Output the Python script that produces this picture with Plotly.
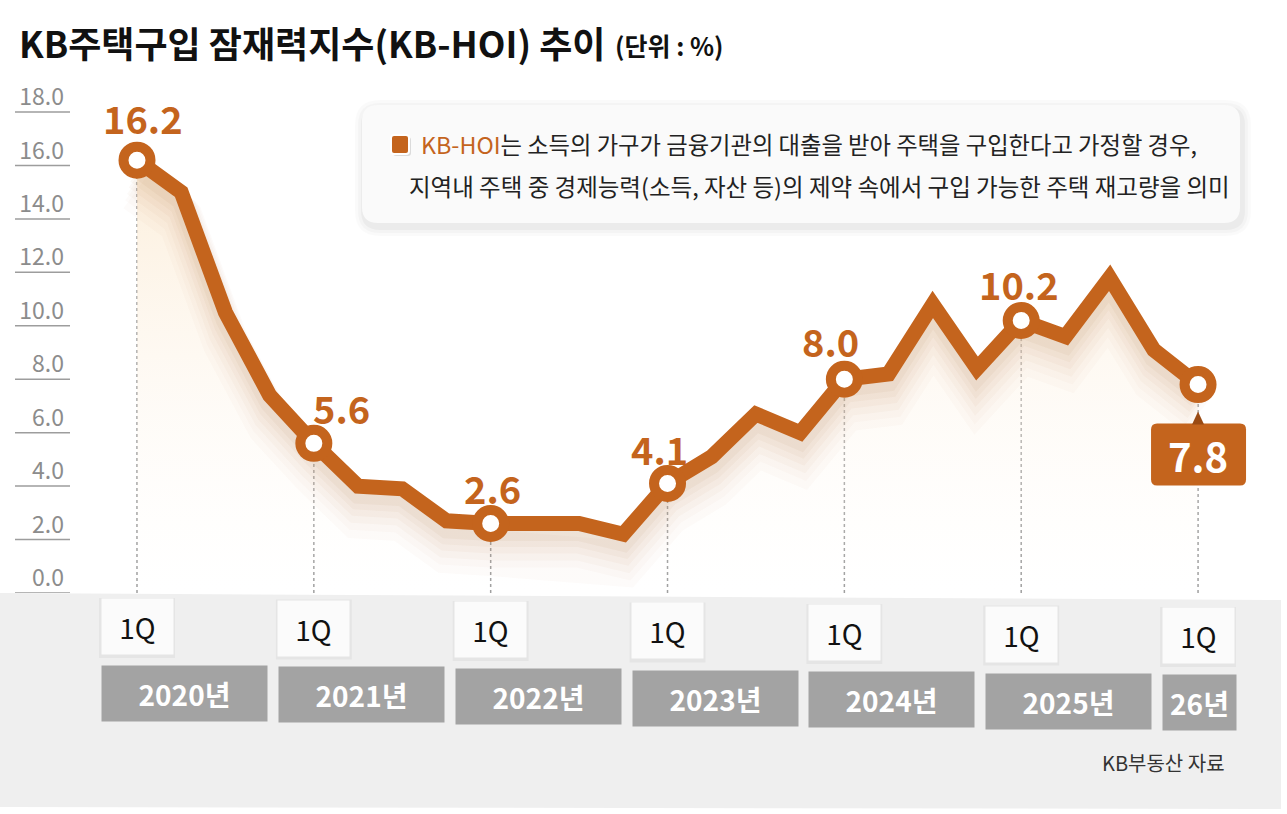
import plotly.graph_objects as go

# KB-HOI, quarterly, 2020 1Q ~ 2026 1Q
quarters = ["2020Q1", "2020Q2", "2020Q3", "2020Q4",
            "2021Q1", "2021Q2", "2021Q3", "2021Q4",
            "2022Q1", "2022Q2", "2022Q3", "2022Q4",
            "2023Q1", "2023Q2", "2023Q3", "2023Q4",
            "2024Q1", "2024Q2", "2024Q3", "2024Q4",
            "2025Q1", "2025Q2", "2025Q3", "2025Q4",
            "2026Q1"]
hoi = [16.2, 15.0, 10.5, 7.4,
       5.6, 4.0, 3.9, 2.7,
       2.6, 2.6, 2.6, 2.2,
       4.1, 5.1, 6.7, 6.0,
       8.0, 8.2, 10.8, 8.4,
       10.2, 9.6, 11.8, 9.1,
       7.8]
first_q = ["2020Q1", "2021Q1", "2022Q1", "2023Q1", "2024Q1", "2025Q1", "2026Q1"]
year_labels = ["2020년", "2021년", "2022년", "2023년", "2024년", "2025년", "26년"]
quarter_tag = "1Q"
ytick_vals = [0, 2, 4, 6, 8, 10, 12, 14, 16, 18]
ytick_text = ["0.0", "2.0", "4.0", "6.0", "8.0", "10.0", "12.0", "14.0", "16.0", "18.0"]

title_text = "KB주택구입 잠재력지수(KB-HOI) 추이"
unit_text = "(단위 : %)"
note_line1 = "는 소득의 가구가 금융기관의 대출을 받아 주택을 구입한다고 가정할 경우,"
note_line2 = "지역내 주택 중 경제능력(소득, 자산 등)의 제약 속에서 구입 가능한 주택 재고량을 의미"
source_text = "KB부동산 자료"

ORANGE = "#C4641D"
KR = "Noto Sans CJK KR"

# page geometry (px)
W_FIG, H_FIG = 1287, 814
L, R, T = 70, 7, 80
BOTTOM = 593
PW = W_FIG - L - R
PH = BOTTOM - T


def px_x(px):
    return (px - L) / PW


def px_y(py):
    return (BOTTOM - py) / PH


def rounded_rect(x0, y0, x1, y1, r):
    # pixel box -> paper path with rounded corners
    pts = [
        ("M", [(x0 + r, y0)]),
        ("L", [(x1 - r, y0)]),
        ("Q", [(x1, y0), (x1, y0 + r)]),
        ("L", [(x1, y1 - r)]),
        ("Q", [(x1, y1), (x1 - r, y1)]),
        ("L", [(x0 + r, y1)]),
        ("Q", [(x0, y1), (x0, y1 - r)]),
        ("L", [(x0, y0 + r)]),
        ("Q", [(x0, y0), (x0 + r, y0)]),
    ]
    out = ""
    for cmd, ps in pts:
        out += cmd + " " + " ".join(f"{px_x(a):.5f},{px_y(b):.5f}" for a, b in ps) + " "
    return out + "Z"


fig = go.Figure()

# soft cream area under the line
fig.add_trace(go.Scatter(
    x=quarters, y=hoi, mode="none", fill="tozeroy",
    fillgradient=dict(type="vertical",
                      colorscale=[[0, "rgba(255,250,244,0)"], [1, "rgba(251,234,210,0.8)"]]),
    hoverinfo="skip", showlegend=False))

# blurred shadow under the line
for off, wid, alpha in [(1.1, 46, 0.025), (0.9, 40, 0.025), (0.75, 34, 0.03),
                        (0.6, 28, 0.035), (0.45, 23, 0.04), (0.3, 19, 0.05)]:
    fig.add_trace(go.Scatter(
        x=quarters, y=[v - off for v in hoi], mode="lines",
        line=dict(color=f"rgba(160,95,35,{alpha})", width=wid),
        hoverinfo="skip", showlegend=False))

fig.add_trace(go.Scatter(
    x=quarters, y=hoi, mode="lines",
    line=dict(color=ORANGE, width=15),
    hoverinfo="skip", showlegend=False))

q_idx = [quarters.index(q) for q in first_q]
fig.add_trace(go.Scatter(
    x=first_q, y=[hoi[i] for i in q_idx], mode="markers",
    marker=dict(size=27, color="white", line=dict(color=ORANGE, width=10)),
    hoverinfo="skip", showlegend=False))

shapes = []

# grey band under the chart
shapes.append(dict(type="path", xref="paper", yref="paper", layer="below",
                   path=f"M {px_x(0)},{px_y(593)} L {px_x(1281)},{px_y(600)} "
                        f"L {px_x(1281)},{px_y(809)} L {px_x(0)},{px_y(807)} Z",
                   fillcolor="#efefef", line=dict(width=0)))

# short tick stubs on the left
for v in ytick_vals:
    shapes.append(dict(type="line", xref="paper", yref="y",
                       x0=px_x(15), x1=px_x(70), y0=v, y1=v,
                       line=dict(color="#9d9d9d", width=1.5)))

# dotted drop lines from 1Q points
for q in first_q:
    shapes.append(dict(type="line", xref="x", yref="y", layer="below",
                       x0=q, x1=q, y0=0, y1=hoi[quarters.index(q)],
                       line=dict(color="#a0a0a0", width=1.5, dash="dot")))

# note box with shadow
for grow, alpha in [(9, 0.018), (6, 0.025), (3, 0.035)]:
    shapes.append(dict(type="path", xref="paper", yref="paper",
                       path=rounded_rect(362 - grow + 2, 105 - grow + 4, 1240 + grow + 2, 223 + grow + 4, 16 + grow),
                       fillcolor=f"rgba(0,0,0,{alpha})", line=dict(width=0)))
shapes.append(dict(type="path", xref="paper", yref="paper",
                   path=rounded_rect(362, 105, 1240, 223, 16),
                   fillcolor="#fafafa", line=dict(width=0)))
shapes.append(dict(type="path", xref="paper", yref="paper",
                   path=rounded_rect(393, 137, 411, 156, 3),
                   fillcolor="rgba(0,0,0,0.12)", line=dict(width=0)))
shapes.append(dict(type="path", xref="paper", yref="paper",
                   path=rounded_rect(391, 135, 409, 154, 3),
                   fillcolor=ORANGE, line=dict(color="white", width=2)))

# last value callout box + pointer (pixel offsets from the last point)
last_q = quarters[-1]
shapes.append(dict(type="path", xref="x", yref="y", xsizemode="pixel", ysizemode="pixel",
                   xanchor=last_q, yanchor=hoi[-1],
                   path="M -41,-39 L 42,-39 Q 48,-39 48,-45 L 48,-95 Q 48,-101 42,-101 "
                        "L -41,-101 Q -47,-101 -47,-95 L -47,-45 Q -47,-39 -41,-39 Z",
                   fillcolor=ORANGE, line=dict(width=0)))
shapes.append(dict(type="path", xref="x", yref="y", xsizemode="pixel", ysizemode="pixel",
                   xanchor=last_q, yanchor=hoi[-1],
                   path="M -6,-40 L 6,-40 L 0,-27 Z",
                   fillcolor="#9a4b14", line=dict(width=0)))

annotations = []
annotations.append(dict(xref="paper", yref="paper", x=px_x(17), y=px_y(42),
                        xanchor="left", yanchor="middle", showarrow=False,
                        text=f"<b>{title_text}</b>",
                        font=dict(family=KR, size=36, color="#111")))
annotations.append(dict(xref="paper", yref="paper", x=px_x(613), y=px_y(45),
                        xanchor="left", yanchor="middle", showarrow=False,
                        text=f"<b>{unit_text}</b>",
                        font=dict(family=KR, size=25, color="#111")))
annotations.append(dict(xref="paper", yref="paper", x=px_x(419), y=px_y(144),
                        xanchor="left", yanchor="middle", showarrow=False,
                        text=f"<span style='color:{ORANGE}'>KB-HOI</span>{note_line1}",
                        font=dict(family=KR, size=23.3, color="#222")))
annotations.append(dict(xref="paper", yref="paper", x=px_x(407), y=px_y(186),
                        xanchor="left", yanchor="middle", showarrow=False,
                        text=note_line2,
                        font=dict(family=KR, size=23.5, color="#222")))
annotations.append(dict(xref="paper", yref="paper", x=px_x(1227), y=px_y(762),
                        xanchor="right", yanchor="middle", showarrow=False,
                        text=source_text,
                        font=dict(family=KR, size=20, color="#333")))

# value labels above the 1Q points
label_shift = [(6, 43), (28, 36), (2, 36), (-8, 35), (-14, 39), (-2, 37)]
for q, (dx, dy) in zip(first_q[:-1], label_shift):
    v = hoi[quarters.index(q)]
    annotations.append(dict(x=q, y=v, xshift=dx, yshift=dy, showarrow=False,
                            text=f"<b>{v:.1f}</b>",
                            font=dict(family=KR, size=38, color=ORANGE)))
annotations.append(dict(x=last_q, y=hoi[-1], yshift=-70, showarrow=False,
                        text=f"<b>{hoi[-1]:.1f}</b>",
                        font=dict(family=KR, size=40, color="white")))

# 1Q tags and year boxes under each point
for k, (q, yl) in enumerate(zip(first_q, year_labels)):
    i = quarters.index(q)
    tilt = 0.375 * i
    shapes.append(dict(type="rect", xref="x", yref="paper", xsizemode="pixel",
                       xanchor=q, x0=-38, x1=38,
                       y0=px_y(600 + tilt + 58), y1=px_y(600 + tilt - 2),
                       fillcolor="rgba(0,0,0,0.04)", line=dict(width=0)))
    annotations.append(dict(x=q, xref="x", yref="paper", y=px_y(626.5 + tilt),
                            xanchor="center", yanchor="middle", showarrow=False,
                            width=71, height=55, borderpad=0, bgcolor="#fbfbfb",
                            text=quarter_tag,
                            font=dict(family=KR, size=28, color="#111")))
    bw = 165 if k < len(first_q) - 1 else 73
    annotations.append(dict(x=q, xref="x", yref="paper", y=px_y(693.5 + tilt),
                            xanchor="left", xshift=-36, yanchor="middle", showarrow=False,
                            width=bw, height=55, borderpad=0, bgcolor="#a3a3a3",
                            text=f"<b>{yl}</b>",
                            font=dict(family=KR, size=28, color="white")))

fig.update_layout(
    width=W_FIG, height=H_FIG,
    margin=dict(l=L, r=R, t=T, b=H_FIG - BOTTOM, pad=0),
    paper_bgcolor="white", plot_bgcolor="rgba(0,0,0,0)",
    showlegend=False,
    shapes=shapes, annotations=annotations,
    xaxis=dict(range=[-1.5155, 25.854], showgrid=False, zeroline=False,
               showticklabels=False, showline=False, fixedrange=True),
    yaxis=dict(range=[0, PH / 26.72], showgrid=False, zeroline=False, showline=False,
               tickvals=ytick_vals, ticktext=ytick_text, ticks="",
               ticklabelshift=-15, ticklabelstandoff=5,
               tickfont=dict(family=KR, size=23, color="#8c8c8c"), fixedrange=True),
)

# drop the default 8px body margin so the figure sits at the window origin
fig.write_html("out.html", config={"displayModeBar": False},
               post_script="document.body.style.margin='0px';")
